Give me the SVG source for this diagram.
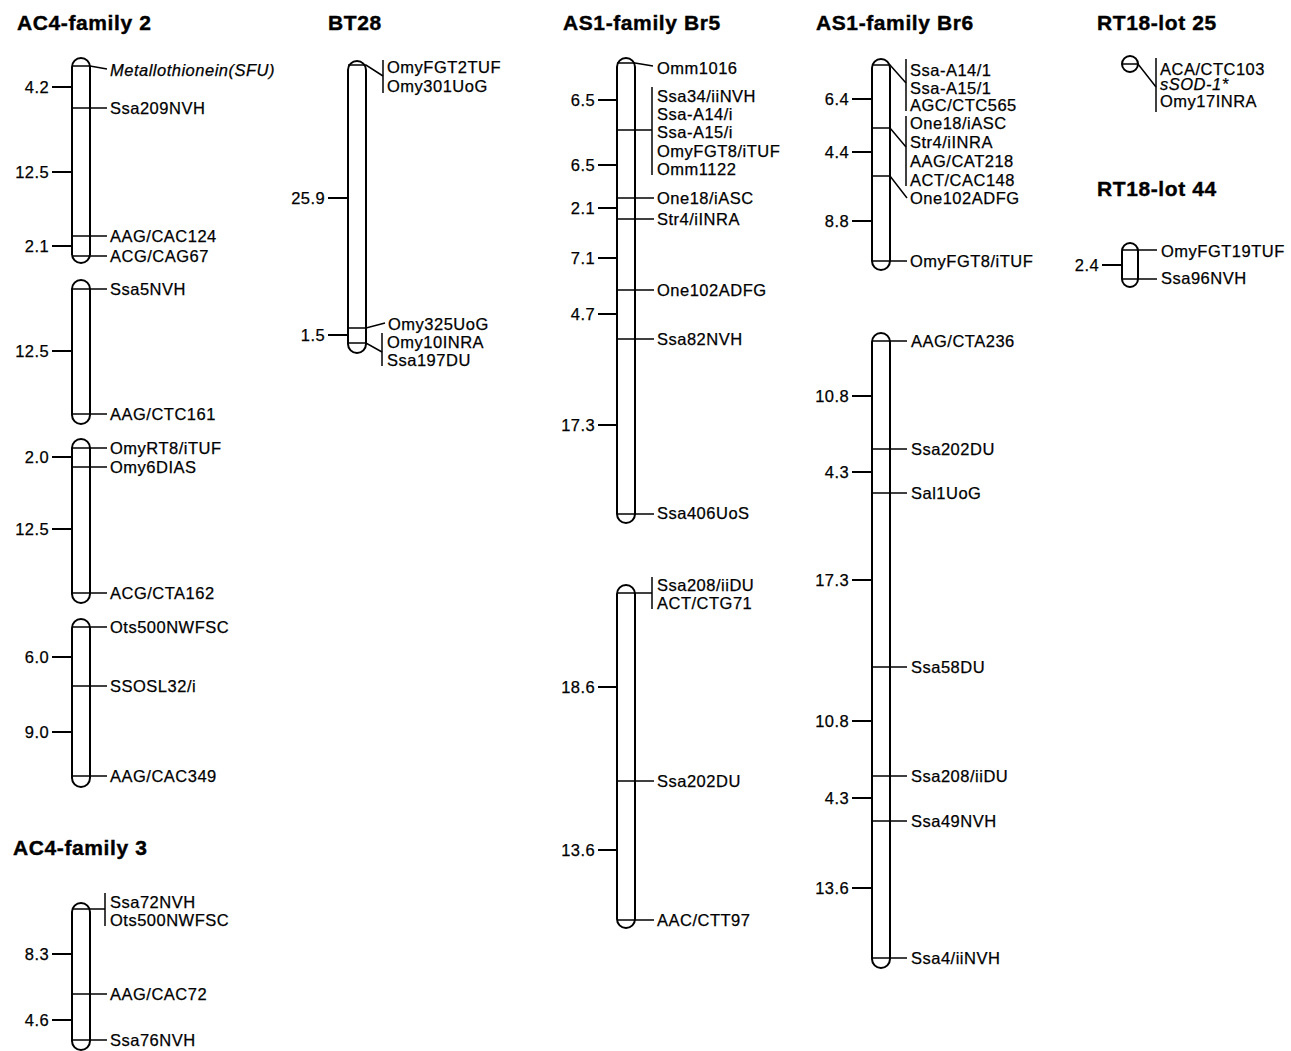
<svg xmlns="http://www.w3.org/2000/svg" width="1291" height="1051" viewBox="0 0 1291 1051">
<style>
.chr{fill:#fff;stroke:#000;stroke-width:2}
.tk{stroke:#000;stroke-width:2;fill:none}
.mk{stroke:#000;stroke-width:1.5;fill:none}
text{font-family:"Liberation Sans",Arial,sans-serif;fill:#000}
.l{font-size:16.5px;letter-spacing:0.5px;stroke:#000;stroke-width:0.25}
.n{font-size:16.5px;letter-spacing:0.4px;text-anchor:end;stroke:#000;stroke-width:0.25}
.i{font-style:italic}
.t{font-size:21px;font-weight:bold;letter-spacing:0.6px;stroke:#000;stroke-width:0.4}
</style>
<rect width="1291" height="1051" fill="#fff"/>

<g id="AC4-family2">
<text class="t" x="17" y="30">AC4-family 2</text>
<g id="ac4f2-c1">
<rect class="chr" x="72" y="58" width="18" height="205" rx="9"/>
<path class="tk" d="M52 87H72M52 172H72M52 246H72"/>
<text class="n" x="49" y="93">4.2</text><text class="n" x="49" y="178">12.5</text><text class="n" x="49" y="252">2.1</text>
<text class="l i" x="110" y="76">Metallothionein(SFU)</text>
<text class="l" x="110" y="114">Ssa209NVH</text>
<text class="l" x="110" y="242">AAG/CAC124</text>
<text class="l" x="110" y="262">ACG/CAG67</text>
</g>
<g id="ac4f2-c2">
<rect class="chr" x="72" y="280" width="18" height="144" rx="9"/>
<path class="tk" d="M52 351H72"/>
<text class="n" x="49" y="357">12.5</text>
<text class="l" x="110" y="295">Ssa5NVH</text>
<text class="l" x="110" y="420">AAG/CTC161</text>
</g>
<g id="ac4f2-c3">
<rect class="chr" x="72" y="439" width="18" height="164" rx="9"/>
<path class="tk" d="M52 457H72M52 529H72"/>
<text class="n" x="49" y="463">2.0</text><text class="n" x="49" y="535">12.5</text>
<text class="l" x="110" y="454">OmyRT8/iTUF</text>
<text class="l" x="110" y="473">Omy6DIAS</text>
<text class="l" x="110" y="599">ACG/CTA162</text>
</g>
<g id="ac4f2-c4">
<rect class="chr" x="72" y="619" width="18" height="168" rx="9"/>
<path class="tk" d="M52 657H72M52 732H72"/>
<text class="n" x="49" y="663">6.0</text><text class="n" x="49" y="738">9.0</text>
<text class="l" x="110" y="633">Ots500NWFSC</text>
<text class="l" x="110" y="692">SSOSL32/i</text>
<text class="l" x="110" y="782">AAG/CAC349</text>
</g>
</g>

<g id="AC4-family3">
<text class="t" x="13" y="855">AC4-family 3</text>
<g id="ac4f3-c1">
<rect class="chr" x="72" y="903" width="18" height="147" rx="9"/>
<path class="tk" d="M52 954H72M52 1020H72"/>
<text class="n" x="49" y="960">8.3</text><text class="n" x="49" y="1026">4.6</text>
<text class="l" x="110" y="908">Ssa72NVH</text>
<text class="l" x="110" y="926">Ots500NWFSC</text>
<text class="l" x="110" y="1000">AAG/CAC72</text>
<text class="l" x="110" y="1046">Ssa76NVH</text>
</g>
</g>

<g id="BT28">
<text class="t" x="328" y="30">BT28</text>
<g id="bt28-c1">
<rect class="chr" x="348" y="61" width="18" height="292" rx="9"/>
<path class="tk" d="M328 198H348M328 335H348"/>
<text class="n" x="325" y="204">25.9</text><text class="n" x="325" y="341">1.5</text>
<text class="l" x="387" y="73">OmyFGT2TUF</text>
<text class="l" x="387" y="92">Omy301UoG</text>
<text class="l" x="388" y="330">Omy325UoG</text>
<text class="l" x="387" y="348">Omy10INRA</text>
<text class="l" x="387" y="366">Ssa197DU</text>
</g>
</g>

<g id="AS1-familyBr5">
<text class="t" x="563" y="30">AS1-family Br5</text>
<g id="br5-c1">
<rect class="chr" x="617" y="58" width="18" height="465" rx="9"/>
<path class="tk" d="M598 100H617M598 165H617M598 208H617M598 258H617M598 314H617M598 425H617"/>
<text class="n" x="595" y="106">6.5</text><text class="n" x="595" y="171">6.5</text><text class="n" x="595" y="214">2.1</text>
<text class="n" x="595" y="264">7.1</text><text class="n" x="595" y="320">4.7</text><text class="n" x="595" y="431">17.3</text>
<text class="l" x="657" y="74">Omm1016</text>
<text class="l" x="657" y="101.5">Ssa34/iiNVH</text>
<text class="l" x="657" y="120">Ssa-A14/i</text>
<text class="l" x="657" y="138.3">Ssa-A15/i</text>
<text class="l" x="657" y="156.7">OmyFGT8/iTUF</text>
<text class="l" x="657" y="175">Omm1122</text>
<text class="l" x="657" y="204">One18/iASC</text>
<text class="l" x="657" y="225">Str4/iINRA</text>
<text class="l" x="657" y="296">One102ADFG</text>
<text class="l" x="657" y="345">Ssa82NVH</text>
<text class="l" x="657" y="519">Ssa406UoS</text>
</g>
<g id="br5-c2">
<rect class="chr" x="617" y="585" width="18" height="343" rx="9"/>
<path class="tk" d="M598 687H617M598 850H617"/>
<text class="n" x="595" y="693">18.6</text><text class="n" x="595" y="856">13.6</text>
<text class="l" x="657" y="591">Ssa208/iiDU</text>
<text class="l" x="657" y="609">ACT/CTG71</text>
<text class="l" x="657" y="787">Ssa202DU</text>
<text class="l" x="657" y="926">AAC/CTT97</text>
</g>
</g>

<g id="AS1-familyBr6">
<text class="t" x="816" y="30">AS1-family Br6</text>
<g id="br6-c1">
<rect class="chr" x="872" y="59" width="18" height="211" rx="9"/>
<path class="tk" d="M852 99H872M852 152H872M852 221H872"/>
<text class="n" x="849" y="105">6.4</text><text class="n" x="849" y="158">4.4</text><text class="n" x="849" y="227">8.8</text>
<text class="l" x="910" y="76">Ssa-A14/1</text>
<text class="l" x="910" y="93.5">Ssa-A15/1</text>
<text class="l" x="910" y="111">AGC/CTC565</text>
<text class="l" x="910" y="129">One18/iASC</text>
<text class="l" x="910" y="148">Str4/iINRA</text>
<text class="l" x="910" y="167">AAG/CAT218</text>
<text class="l" x="910" y="186">ACT/CAC148</text>
<text class="l" x="910" y="204">One102ADFG</text>
<text class="l" x="910" y="267">OmyFGT8/iTUF</text>
</g>
<g id="br6-c2">
<rect class="chr" x="872" y="333" width="18" height="635" rx="9"/>
<path class="tk" d="M852 396H872M852 472H872M852 580H872M852 721H872M852 798H872M852 888H872"/>
<text class="n" x="849" y="402">10.8</text><text class="n" x="849" y="478">4.3</text><text class="n" x="849" y="586">17.3</text>
<text class="n" x="849" y="727">10.8</text><text class="n" x="849" y="804">4.3</text><text class="n" x="849" y="894">13.6</text>
<text class="l" x="911" y="347">AAG/CTA236</text>
<text class="l" x="911" y="455">Ssa202DU</text>
<text class="l" x="911" y="499">Sal1UoG</text>
<text class="l" x="911" y="673">Ssa58DU</text>
<text class="l" x="911" y="782">Ssa208/iiDU</text>
<text class="l" x="911" y="827">Ssa49NVH</text>
<text class="l" x="911" y="964">Ssa4/iiNVH</text>
</g>
</g>

<g id="RT18-lot25">
<text class="t" x="1097" y="30">RT18-lot 25</text>
<g id="rt25-c1">
<rect class="chr" x="1122" y="56" width="16" height="16" rx="8"/>
<text class="l" x="1160" y="74.5">ACA/CTC103</text>
<text class="l i" x="1160" y="90">sSOD-1*</text>
<text class="l" x="1160" y="106.5">Omy17INRA</text>
</g>
</g>

<g id="RT18-lot44">
<text class="t" x="1097" y="196">RT18-lot 44</text>
<g id="rt44-c1">
<rect class="chr" x="1122" y="243" width="16" height="44" rx="8"/>
<path class="tk" d="M1102 265H1122"/>
<text class="n" x="1099" y="271">2.4</text>
<text class="l" x="1161" y="257">OmyFGT19TUF</text>
<text class="l" x="1161" y="284">Ssa96NVH</text>
</g>
</g>

<g id="connectors" class="mk">
<polyline points="72,66 90,66 107,69"/>
<line x1="72" y1="108" x2="107" y2="108"/>
<line x1="72" y1="236" x2="107" y2="236"/>
<line x1="72" y1="256" x2="107" y2="256"/>
<line x1="72" y1="289" x2="107" y2="289"/>
<line x1="72" y1="414" x2="107" y2="414"/>
<line x1="72" y1="448" x2="107" y2="448"/>
<line x1="72" y1="467" x2="107" y2="467"/>
<line x1="72" y1="593" x2="107" y2="593"/>
<line x1="72" y1="627" x2="107" y2="627"/>
<line x1="72" y1="686" x2="107" y2="686"/>
<line x1="72" y1="776" x2="107" y2="776"/>
<line x1="72" y1="909" x2="105" y2="909"/>
<line x1="105" y1="893" x2="105" y2="926"/>
<line x1="72" y1="994" x2="107" y2="994"/>
<line x1="72" y1="1040" x2="107" y2="1040"/>

<polyline points="348,65 366,65 383,76"/>
<line x1="383" y1="60" x2="383" y2="93"/>
<polyline points="348,328 366,328 385,323"/>
<polyline points="348,343 366,343 382,352"/>
<line x1="382" y1="333" x2="382" y2="366"/>

<polyline points="617,63 635,63 653,66"/>
<line x1="617" y1="130" x2="652" y2="130"/>
<line x1="652" y1="87" x2="652" y2="175"/>
<line x1="617" y1="198" x2="654" y2="198"/>
<line x1="617" y1="219" x2="654" y2="219"/>
<line x1="617" y1="290" x2="654" y2="290"/>
<line x1="617" y1="339" x2="654" y2="339"/>
<line x1="617" y1="514" x2="654" y2="514"/>
<line x1="617" y1="593" x2="652" y2="593"/>
<line x1="652" y1="577" x2="652" y2="609"/>
<line x1="617" y1="781" x2="654" y2="781"/>
<line x1="617" y1="920" x2="654" y2="920"/>

<polyline points="872,65 890,65 906,83"/>
<line x1="906" y1="59" x2="906" y2="111"/>
<polyline points="872,128 890,128 906,147"/>
<line x1="906" y1="116" x2="906" y2="186"/>
<polyline points="872,176 890,176 907,198"/>
<line x1="872" y1="261" x2="907" y2="261"/>
<line x1="872" y1="341" x2="907" y2="341"/>
<line x1="872" y1="449" x2="907" y2="449"/>
<line x1="872" y1="493" x2="907" y2="493"/>
<line x1="872" y1="667" x2="907" y2="667"/>
<line x1="872" y1="776" x2="907" y2="776"/>
<line x1="872" y1="821" x2="907" y2="821"/>
<line x1="872" y1="958" x2="907" y2="958"/>

<polyline points="1122,64 1138,64 1156,87"/>
<line x1="1156" y1="58" x2="1156" y2="112"/>
<line x1="1122" y1="250" x2="1157" y2="250"/>
<line x1="1122" y1="279" x2="1157" y2="279"/>
</g>
</svg>
